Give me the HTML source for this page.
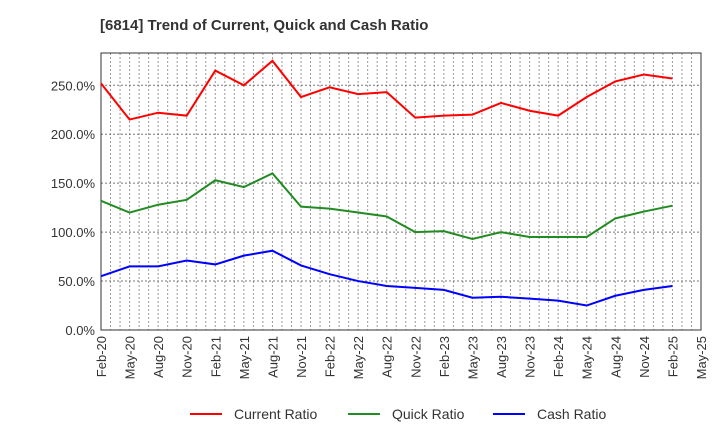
<!DOCTYPE html>
<html><head><meta charset="utf-8"><style>
body{margin:0;background:#fff;font-family:"Liberation Sans",sans-serif}
svg text{font-family:"Liberation Sans",sans-serif}
</style></head><body>
<svg id="c" width="720" height="440" xmlns="http://www.w3.org/2000/svg">
<text x="100" y="30" font-size="15" font-weight="bold" fill="#333">[6814]  Trend of Current, Quick and Cash Ratio</text>
<g id="grid"></g><g id="axes"></g><g id="series"></g>
<g>
<line x1="190" y1="414" x2="222" y2="414" stroke="#ff0000" stroke-width="2"/><text x="234" y="419" font-size="14" fill="#333">Current Ratio</text>
<line x1="348" y1="414" x2="380" y2="414" stroke="#228b22" stroke-width="2"/><text x="392" y="419" font-size="14" fill="#333">Quick Ratio</text>
<line x1="493" y1="414" x2="525" y2="414" stroke="#0000ff" stroke-width="2"/><text x="537" y="419" font-size="14" fill="#333">Cash Ratio</text>
</g>
</svg>
<script>
const xLabels=["Feb-20","May-20","Aug-20","Nov-20","Feb-21","May-21","Aug-21","Nov-21","Feb-22","May-22","Aug-22","Nov-22","Feb-23","May-23","Aug-23","Nov-23","Feb-24","May-24","Aug-24","Nov-24","Feb-25","May-25"];
const currentRatio=[252,215,222,219,265,250,275,238,248,241,243,217,219,220,232,224,219,238,254,261,257];
const quickRatio=[132,120,128,133,153,146,160,126,124,120,116,100,101,93,100,95,95,95,114,121,127];
const cashRatio=[55,65,65,71,67,76,81,66,57,50,45,43,41,33,34,32,30,25,35,41,45];
const yTicks=[0,50,100,150,200,250];
const L=101,R=701,T=53,B=330,yMax=283;
const x=i=>L+(R-L)*i/(xLabels.length-1);
const y=v=>B-(B-T)*v/yMax;
const NS="http://www.w3.org/2000/svg";
function mk(t,a,p){const e=document.createElementNS(NS,t);for(const k in a)e.setAttribute(k,a[k]);p.appendChild(e);return e;}
const grid=document.getElementById('grid'),axes=document.getElementById('axes'),ser=document.getElementById('series');
const months=(xLabels.length-1)*3;
for(let m=1;m<months;m++){const xx=L+(R-L)*m/months;
const g=mk('line',{x1:xx,x2:xx,y1:T,y2:B,stroke:'#999','stroke-dasharray':'2,2','stroke-width':1},grid);

}
yTicks.forEach(v=>{const yy=y(v);
if(v>0){const g=mk('line',{x1:L,x2:R,y1:yy,y2:yy,stroke:'#777','stroke-dasharray':'2,2','stroke-width':1},grid);

}
const t=mk('text',{x:L-6,y:yy+5,'text-anchor':'end','font-size':13,fill:'#333'},axes);t.textContent=v.toFixed(1)+'%';

});
const fr=mk('rect',{x:L,y:T,width:R-L,height:B-T,fill:'none',stroke:'#333','stroke-width':1},axes);


xLabels.forEach((s,i)=>{const xx=x(i);
const t=mk('text',{x:xx+5,y:B+6,'text-anchor':'end','font-size':13,fill:'#333',transform:`rotate(-90 ${xx+5} ${B+6})`},axes);t.textContent=s;

});
[[currentRatio,'#ff0000','current-ratio-line'],[quickRatio,'#228b22','quick-ratio-line'],[cashRatio,'#0000ff','cash-ratio-line']].forEach(([d,c,n])=>{
const p=mk('polyline',{points:d.map((v,i)=>x(i)+','+y(v)).join(' '),fill:'none',stroke:c,'stroke-width':2},ser);

});
</script>
</body></html>
